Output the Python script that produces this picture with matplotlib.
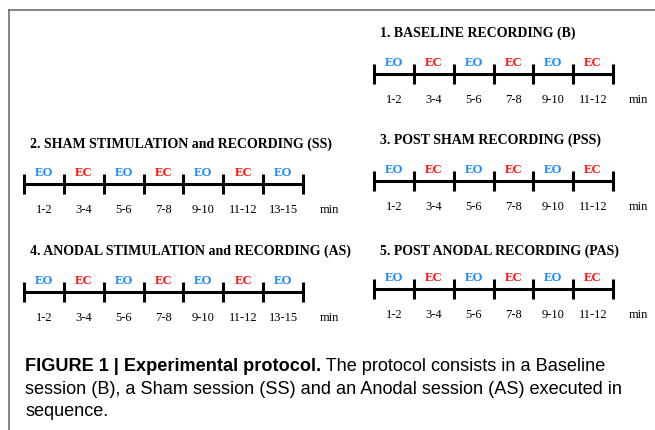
import matplotlib.pyplot as plt
from matplotlib.lines import Line2D

W, H = 655, 431

# session titles and the segments of each recording timeline
titles = ['1. BASELINE RECORDING (B)',
          '2. SHAM STIMULATION and RECORDING (SS)',
          '3. POST SHAM RECORDING (PSS)',
          '4. ANODAL STIMULATION and RECORDING (AS)',
          '5. POST ANODAL RECORDING (PAS)']
cond_short = ['EO', 'EC', 'EO', 'EC', 'EO', 'EC']
cond_long = ['EO', 'EC', 'EO', 'EC', 'EO', 'EC', 'EO']
min_short = ['1-2', '3-4', '5-6', '7-8', '9-10', '11-12']
min_long = ['1-2', '3-4', '5-6', '7-8', '9-10', '11-12', '13-15']
session_cond = [cond_short, cond_long, cond_short, cond_long, cond_short]
session_min = [min_short, min_long, min_short, min_long, min_short]

caption_bold = 'FIGURE 1 | Experimental protocol.'
caption_rest = [' The protocol consists in a Baseline',
                'session (B), a Sham session (SS) and an Anodal session (AS) executed in',
                'sequence.']

# layout in pixels: title x, title y, line y, first tick x, last tick x
layout = [(380, 33, 75, 374, 613),
          (30, 144, 185, 24, 303),
          (380, 140, 182, 374, 613),
          (30, 251, 293, 24, 303),
          (380, 251, 290, 374, 613)]

colors = {'EO': '#1e8cff', 'EC': '#ff1414'}
serif = 'Liberation Serif'

fig = plt.figure(figsize=(W / 100, H / 100), dpi=100, facecolor='white')
bg = fig.add_axes([0, 0, 1, 1])
bg.set_xlim(0, W)
bg.set_ylim(H, 0)
bg.axis('off')

# frame
bg.add_line(Line2D([9, W], [11, 11], color='#6e6e6e', lw=1.2))
bg.add_line(Line2D([9, 9], [11, H], color='#6e6e6e', lw=1.2))

for k, title in enumerate(titles):
    tx, ty, ly, x0, x1 = layout[k]
    bg.text(tx, ty, title, family=serif, weight='bold', fontsize=10,
            ha='left', va='center')
    cond = session_cond[k]
    mins = session_min[k]
    n = len(cond)
    ax = fig.add_axes([x0 / W, (H - ly - 30) / H, (x1 - x0) / W, 55 / H])
    ax.set_xlim(0, n)
    ax.set_ylim(-30, 25)
    ax.axis('off')
    ax.hlines(0, 0, n, color='black', lw=2.2, capstyle='butt', clip_on=False)
    ax.vlines(range(n + 1), -10, 10, color='black', lw=2.2,
              capstyle='butt', clip_on=False)
    for i in range(n):
        ax.text(i + 0.5, 12, cond[i], color=colors[cond[i]], family=serif,
                weight='bold', fontsize=9.2, ha='center', va='center',
                clip_on=False)
        ax.text(i + 0.5, -25, mins[i], family=serif, fontsize=9,
                ha='center', va='center', clip_on=False)
    ax.text(n + 0.65, -25, 'min', family=serif, fontsize=9,
            ha='center', va='center', clip_on=False)

# caption
sans = 'Liberation Sans'
fs = 13.1
t = bg.text(25, 371.5, caption_bold, family=sans, weight='bold', fontsize=fs,
            ha='left', va='baseline')
bg.annotate(caption_rest[0], xy=(1, 0), xycoords=t, family=sans,
            fontsize=fs, ha='left', va='bottom')
bg.text(25, 394, caption_rest[1], family=sans, fontsize=fs,
        ha='left', va='baseline')
bg.text(25, 416.5, caption_rest[2], family=sans, fontsize=fs,
        ha='left', va='baseline')

fig.savefig('out.png', dpi=100)
